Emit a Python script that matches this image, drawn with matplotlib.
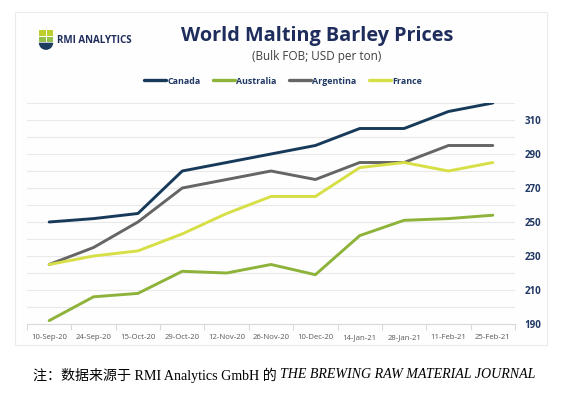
import matplotlib
matplotlib.use('Agg')
import matplotlib.pyplot as plt
from matplotlib.patches import Rectangle, Wedge
from matplotlib.ticker import FixedLocator, MultipleLocator

# ---------------- data ----------------
dates = ['10-Sep-20', '24-Sep-20', '15-Oct-20', '29-Oct-20', '12-Nov-20', '26-Nov-20',
         '10-Dec-20', '14-Jan-21', '28-Jan-21', '11-Feb-21', '25-Feb-21']
canada = [250, 252, 255, 280, 285, 290, 295, 305, 305, 315, 320]
australia = [192, 206, 208, 221, 220, 225, 219, 242, 251, 252, 254]
argentina = [225, 235, 250, 270, 275, 280, 275, 285, 285, 295, 295]
france = [225, 230, 233, 243, 255, 265, 265, 282, 285, 280, 285]
series_names = ['Canada', 'Australia', 'Argentina', 'France']
y_ticks = [190, 210, 230, 250, 270, 290, 310]

title = 'World Malting Barley Prices'
subtitle = '(Bulk FOB; USD per ton)'
logo_text = 'RMI ANALYTICS'
caption_main = '注：数据来源于 RMI Analytics GmbH 的 '
caption_italic = 'THE BREWING RAW MATERIAL JOURNAL'

# ---------------- styles ----------------
colors = ['#183a5a', '#8db33a', '#656565', '#d6df45']
navy = '#1f2d5c'
W, H = 565, 398

plt.rcParams['font.family'] = ['Open Sans', 'DejaVu Sans']

fig = plt.figure(figsize=(W / 100, H / 100), dpi=100)
fig.patch.set_facecolor('white')


def fx(px):
    return px / W


def fy(py):
    return 1 - py / H


# panel background
fig.add_artist(Rectangle((fx(15), fy(345)), fx(547) - fx(15), fy(12) - fy(345),
                         transform=fig.transFigure, facecolor='#fefefe',
                         edgecolor='#ebebeb', lw=0.8, zorder=0))

ax = fig.add_axes([fx(27), fy(324), fx(515) - fx(27), fy(103) - fy(324)])
ax.set_facecolor('none')
xs = list(range(len(dates)))
lines = []
for name, vals, c in zip(series_names, [canada, australia, argentina, france], colors):
    ln, = ax.plot(xs, vals, color=c, lw=2.1, solid_capstyle='round',
                  solid_joinstyle='round', zorder=3, label=name)
    lines.append(ln)

ax.set_xlim(-0.5, len(dates) - 0.5)
ax.set_ylim(190, 320)
ax.yaxis.set_major_locator(FixedLocator(y_ticks))
ax.yaxis.set_minor_locator(MultipleLocator(10))
ax.grid(which='both', axis='y', color='#e9e9e9', lw=0.8)
ax.set_axisbelow(True)
ax.yaxis.tick_right()
ax.tick_params(axis='y', which='both', length=0, pad=7, labelsize=7, labelcolor='#1f3864')
for lab in ax.get_yticklabels():
    lab.set_fontweight('bold')

ax.set_xticks(xs)
ax.set_xticklabels(dates)
ax.set_xticks([i - 0.5 for i in range(len(dates) + 1)], minor=True)
ax.tick_params(axis='x', which='major', length=0, pad=7.5, labelsize=5.3, labelcolor='#595959')
ax.tick_params(axis='x', which='minor', length=4, color='#d9d9d9', width=0.8)
for s in ['top', 'left', 'right']:
    ax.spines[s].set_visible(False)
ax.spines['bottom'].set_color('#d9d9d9')
ax.spines['bottom'].set_linewidth(0.8)

renderer = fig.canvas.get_renderer()


def fit(t, target):
    w = t.get_window_extent(renderer).width
    t.set_fontsize(t.get_fontsize() * target / w)


# fit x tick label size so "10-Sep-20" is ~36 px wide
probe = fig.text(0, 0, dates[0], fontsize=5.3)
w = probe.get_window_extent(renderer).width
xs_size = 5.3 * 36.5 / w
probe.remove()
ax.tick_params(axis='x', which='major', labelsize=xs_size)

# title & subtitle
t1 = fig.text(fx(317.5), fy(41.5), title, ha='center', va='baseline',
              fontsize=15, fontweight='bold', color=navy)
fit(t1, 273)
t2 = fig.text(fx(316.7), fy(56.7), subtitle, ha='center', va='center',
              fontsize=8, color='#404040')
fit(t2, 130)

# legend
leg = fig.legend(handles=lines, labels=series_names, loc='center',
                 bbox_to_anchor=(fx(283), fy(81)), ncol=4, frameon=False,
                 prop={'weight': 'bold', 'size': 6.4}, handlelength=2.5,
                 handletextpad=0.15, columnspacing=1.35, labelcolor='#1f3864',
                 borderaxespad=0, borderpad=0)
for h in leg.legend_handles:
    h.set_linewidth(2.4)

# logo
lax = fig.add_axes([fx(36), fy(52), 20 / W, 24 / H])
lax.set_xlim(0, 20)
lax.set_ylim(0, 24)
lax.axis('off')
lax.add_patch(Rectangle((3, 15.8), 6.5, 6.2, color='#bccf2f', lw=0))
lax.add_patch(Rectangle((10.5, 15.8), 6.5, 6.2, color='#bccf2f', lw=0))
lax.add_patch(Rectangle((3, 9.8), 6.5, 5.5, color='#93c04a', lw=0))
lax.add_patch(Rectangle((10.5, 9.8), 6.5, 5.5, color='#93c04a', lw=0))
lax.add_patch(Wedge((10, 9.3), 7.2, 180, 360, color='#1d3d5e', lw=0))
lt = fig.text(fx(56.7), fy(40.7), logo_text, ha='left', va='center',
              fontsize=7, fontweight='bold', color=navy)
fit(lt, 75)

# caption
c1 = fig.text(fx(33), fy(375), caption_main, ha='left', va='center', fontsize=10,
              family=['Liberation Serif', 'Noto Sans CJK SC'], color='black')
c2 = fig.text(fx(33), fy(375), caption_italic, ha='left', va='center', fontsize=10,
              family=['Liberation Serif'], style='italic', color='black')
w1 = c1.get_window_extent(renderer).width
w2 = c2.get_window_extent(renderer).width
scale = 504 / (w1 + w2)
c1.set_fontsize(10 * scale)
c2.set_fontsize(10 * scale)
w1 = c1.get_window_extent(renderer).width
c2.set_x(fx(33 + w1))

fig.savefig('out.png', dpi=100)
